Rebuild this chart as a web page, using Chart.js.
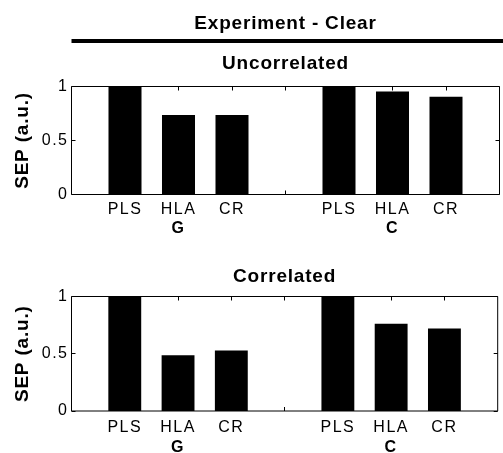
<!DOCTYPE html>
<html><head><meta charset="utf-8">
<script src="https://cdn.jsdelivr.net/npm/chart.js@4"></script>
<style>
html,body{margin:0;padding:0;overflow:hidden;background:#fff;width:503px;height:453px;}
canvas{position:absolute;left:0;}
#c1{top:0;}
#c2{top:240px;}
</style></head><body>
<canvas id="c1" width="505" height="240"></canvas>
<canvas id="c2" width="505" height="213"></canvas>
<script>
// ---- data ----
const figureTitle = 'Experiment - Clear';
const panelTitles = ['Uncorrelated', 'Correlated'];
const methods = ['PLS', 'HLA', 'CR'];
const groups = ['G', 'C'];
const uncorrelatedG = [1, 0.736, 0.736];
const uncorrelatedC = [1, 0.953, 0.904];
const correlatedG = [1, 0.487, 0.528];
const correlatedC = [1, 0.761, 0.720];
const yTicks = [0, 0.5, 1];
const yTitle = 'SEP (a.u.)';

// ---- derived tables ----
const slotLabels = ['', ...methods, '', ...methods, ''];
const groupLabels = ['', ...methods.map((m, i) => i === 1 ? groups[0] : ''), '',
                     ...methods.map((m, i) => i === 1 ? groups[1] : ''), ''];
const tickSlots = slotLabels.map((l, i) => i).filter(i => i > 0 && i < slotLabels.length - 1);
function series(g, c) { return [null, ...g, null, ...c, null]; }

const FONT = "'Liberation Sans', Arial, Helvetica, sans-serif";
Chart.defaults.font.family = FONT;
Chart.defaults.color = '#000';

function makeChart(id, values, cfg) {
  const framePlugin = {
    id: 'frame',
    beforeDraw(chart) { chart.ctx.letterSpacing = '0.8px'; },
    beforeDatasetsDraw(chart) {
      const {ctx, chartArea: a, scales: {x, y}} = chart;
      ctx.save();
      ctx.strokeStyle = '#000';
      ctx.lineWidth = 1;
      ctx.beginPath();
      ctx.rect(a.left, a.top, a.right - a.left, a.bottom - a.top);
      const L = 4;
      tickSlots.forEach(i => {
        const px = Math.floor(x.getPixelForValue(i)) + 0.5;
        ctx.moveTo(px, a.top); ctx.lineTo(px, a.top + L);
        ctx.moveTo(px, a.bottom); ctx.lineTo(px, a.bottom - L);
      });
      yTicks.forEach(v => {
        const py = Math.floor(y.getPixelForValue(v)) + 0.5;
        ctx.moveTo(a.left, py); ctx.lineTo(a.left + L, py);
        ctx.moveTo(a.right, py); ctx.lineTo(a.right - L, py);
      });
      ctx.stroke();
      ctx.restore();
    },
    afterDatasetsDraw(chart) { chart.ctx.letterSpacing = '1.5px'; },
    afterDraw(chart) {
      const {ctx, chartArea: a} = chart;
      const cx = (a.left + a.right) / 2;
      ctx.save();
      ctx.letterSpacing = '0.8px';
      ctx.fillStyle = '#000';
      ctx.textAlign = 'center';
      ctx.textBaseline = 'alphabetic';
      ctx.font = 'bold 19px ' + FONT;
      if (cfg.figureTitle) {
        ctx.fillText(cfg.figureTitle, cx, cfg.figureTitleY);
        ctx.fillRect(a.left, cfg.ruleY - 2, chart.width - a.left, 4);
      }
      ctx.fillText(cfg.panelTitle, cx, cfg.panelTitleY);
      ctx.restore();
    }
  };
  return new Chart(document.getElementById(id), {
    type: 'bar',
    data: {
      labels: slotLabels,
      datasets: [{
        data: values,
        backgroundColor: '#000',
        borderWidth: 0,
        categoryPercentage: 1,
        barPercentage: 0.617
      }]
    },
    options: {
      responsive: false,
      animation: false,
      events: [],
      layout: {padding: {top: cfg.top, right: 1, bottom: 0, left: 0}},
      plugins: {legend: {display: false}, tooltip: {enabled: false}, title: {display: false}},
      scales: {
        x: {
          type: 'category', position: 'bottom', offset: false, weight: 0,
          grid: {display: false, drawTicks: false}, border: {display: false},
          ticks: {autoSkip: false, maxRotation: 0, minRotation: 0, padding: cfg.xPad,
                  font: {size: 16}, color: '#000', z: 1},
          afterFit: s => { s.height = cfg.xH; }
        },
        x2: {
          type: 'category', position: 'bottom', offset: false, weight: 1,
          labels: groupLabels,
          grid: {display: false, drawTicks: false}, border: {display: false},
          ticks: {autoSkip: false, maxRotation: 0, minRotation: 0, padding: cfg.x2Pad,
                  font: {size: 16, weight: 'bold'}, color: '#000', z: 1},
          afterFit: s => { s.height = cfg.x2H; }
        },
        y: {
          type: 'linear', position: 'left', min: yTicks[0], max: yTicks[yTicks.length - 1],
          grid: {display: false, drawTicks: false}, border: {display: false},
          afterBuildTicks: s => { s.ticks = yTicks.map(v => ({value: v})); },
          ticks: {padding: 3, font: {size: 16}, color: '#000', z: 1,
                  callback: v => String(v)},
          title: {display: true, text: yTitle, color: '#000',
                  font: {size: 19, weight: 'bold'}, padding: {top: 11, bottom: 0}},
          afterFit: s => { s.width = 71.5; }
        }
      }
    },
    plugins: [framePlugin]
  });
}

makeChart('c1', series(uncorrelatedG, uncorrelatedC), {
  figureTitle: figureTitle, figureTitleY: 29, ruleY: 41,
  panelTitle: panelTitles[0], panelTitleY: 69.3,
  top: 86.5, xH: 24, x2H: 240 - 194.5 - 24, xPad: 5.5, x2Pad: 0
});
makeChart('c2', series(correlatedG, correlatedC), {
  panelTitle: panelTitles[1], panelTitleY: 42.3,
  top: 56.5, xH: 24, x2H: 213 - 171 - 24, xPad: 7.3, x2Pad: 2.7
});
</script>
</body></html>
